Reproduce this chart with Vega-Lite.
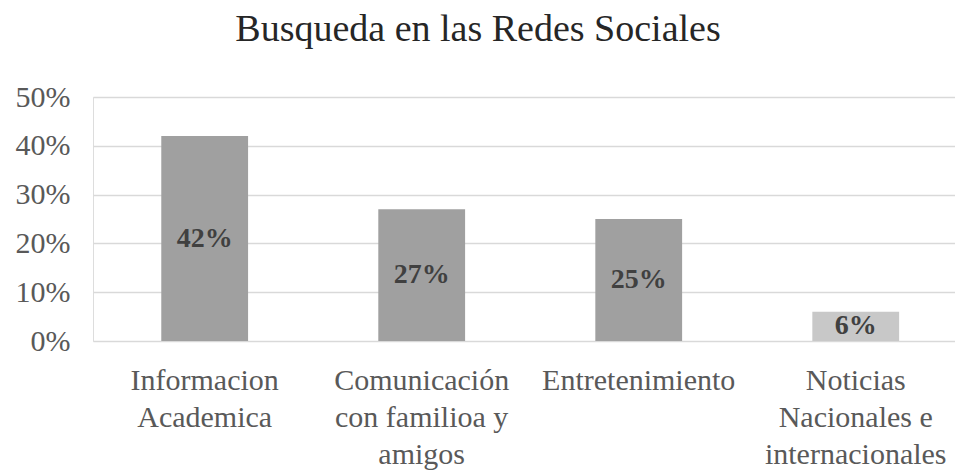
{
  "$schema": "https://vega.github.io/schema/vega-lite/v6.json",
  "autosize": "none",
  "width": 862,
  "height": 244,
  "padding": {"left": 93, "top": 97, "right": 0, "bottom": 129},
  "background": "white",
  "title": {
    "text": "Busqueda  en las Redes Sociales",
    "font": "Liberation Serif",
    "fontSize": 38,
    "fontWeight": "normal",
    "color": "#262626",
    "anchor": "middle",
    "frame": "group",
    "dx": -46,
    "dy": 17,
    "baseline": "alphabetic",
    "offset": 20
  },
  "data": {
    "values": [
      {"categoria": "Informacion|Academica", "valor": 0.42, "tipo": "a"},
      {"categoria": "Comunicación|con familioa y|amigos", "valor": 0.27, "tipo": "a"},
      {"categoria": "Entretenimiento", "valor": 0.25, "tipo": "a"},
      {"categoria": "Noticias|Nacionales e|internacionales", "valor": 0.06, "tipo": "b"}
    ]
  },
  "encoding": {
    "x": {
      "field": "categoria",
      "type": "nominal",
      "sort": null,
      "scale": {"paddingInner": 0.6, "paddingOuter": 0.286, "align": 0.55},
      "axis": {
        "title": null,
        "labelAngle": 0,
        "labelExpr": "split(datum.label, '|')",
        "labelFont": "Liberation Serif",
        "labelFontSize": 30,
        "labelColor": "#595959",
        "labelLineHeight": 37,
        "labelPadding": 24,
        "labelLimit": 400,
        "labelBaseline": "top",
        "domain": false,
        "ticks": false,
        "grid": false
      }
    }
  },
  "layer": [
    {
      "mark": {"type": "bar"},
      "encoding": {
        "y": {
          "field": "valor",
          "type": "quantitative",
          "scale": {"domain": [0, 0.5]},
          "axis": {
            "title": null,
            "format": ".0%",
            "values": [0, 0.1, 0.2, 0.3, 0.4, 0.5],
            "labelFont": "Liberation Serif",
            "labelFontSize": 30,
            "labelColor": "#595959",
            "labelPadding": 23,
            "domain": false,
            "ticks": false,
            "grid": true,
            "gridColor": "#d9d9d9",
            "gridWidth": 1.5
          }
        },
        "color": {
          "field": "tipo",
          "type": "nominal",
          "scale": {"domain": ["a", "b"], "range": ["#a0a0a0", "#c8c8c8"]},
          "legend": null
        }
      }
    },
    {
      "mark": {
        "type": "text",
        "font": "Liberation Serif",
        "fontSize": 28,
        "fontWeight": "bold",
        "color": "#404040",
        "baseline": "middle",
        "align": "center"
      },
      "encoding": {
        "y": {
          "field": "valor",
          "type": "quantitative",
          "scale": {"domain": [0, 1]},
          "axis": null
        },
        "text": {"field": "valor", "type": "quantitative", "format": ".0%"}
      }
    }
  ],
  "resolve": {"scale": {"y": "independent"}}
}
